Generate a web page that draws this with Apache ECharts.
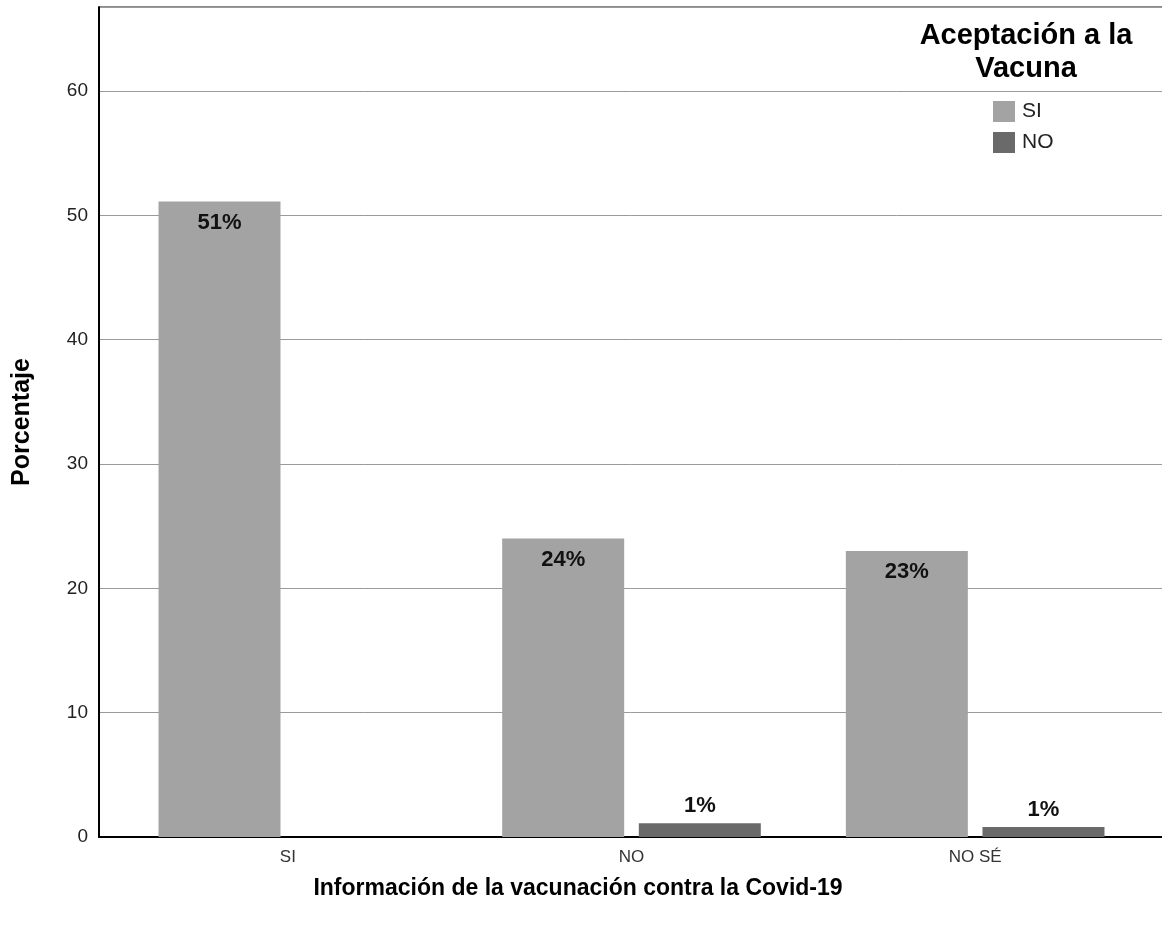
<!DOCTYPE html>
<html><head><meta charset="utf-8">
<script src="https://cdn.jsdelivr.net/npm/echarts@6/dist/echarts.min.js"></script>
<style>html,body{margin:0;padding:0;background:#fff}#c{width:1162px;height:931px}</style>
</head><body><div id="c"></div>
<script>
const categories = ['SI', 'NO', 'NO SÉ'];
const seriesNames = ['SI', 'NO'];
const valuesSI = [51.1, 24.0, 23.0];
const valuesNO = [0, 1.1, 0.8];
const yTicks = [0, 10, 20, 30, 40, 50, 60];

const chart = echarts.init(document.getElementById('c'));
const sans = '"Liberation Sans", Arial, sans-serif';
const gTop = 7, gBottom = 94, yMax = 66.75;
const fmt = p => p.value > 0 ? Math.round(p.value) + '%' : '';
chart.setOption({
  animation: false,
  grid: [
    {left: 99, right: 0, top: gTop, bottom: gBottom, show: false, containLabel: false, outerBoundsMode: 'none'},
    {left: 116, right: 15, top: gTop, bottom: gBottom, show: false, containLabel: false, outerBoundsMode: 'none'}
  ],
  xAxis: [
    {type: 'category', gridIndex: 0, data: categories,
     axisLine: {lineStyle: {color: '#000', width: 2}}, axisTick: {show: false}, axisLabel: {show: false}},
    {type: 'category', gridIndex: 1, data: categories,
     axisLine: {show: false}, axisTick: {show: false},
     axisLabel: {color: '#333', fontFamily: sans, fontSize: 17, margin: 12}}
  ],
  yAxis: [
    {type: 'value', gridIndex: 0, min: 0, max: yMax, interval: 10,
     axisLine: {show: true, lineStyle: {color: '#000', width: 2}}, axisTick: {show: false},
     axisLabel: {color: '#222', fontFamily: sans, fontSize: 19, margin: 11, showMaxLabel: false,
       formatter: v => yTicks.includes(v) ? String(v) : ''},
     splitLine: {show: true, lineStyle: {color: '#9a9a9a', width: 1}},
     name: 'Porcentaje', nameLocation: 'middle', nameGap: 64, nameRotate: 90,
     nameTextStyle: {fontFamily: sans, fontWeight: 'bold', fontSize: 25, color: '#000'}},
    {type: 'value', gridIndex: 1, min: 0, max: yMax, show: false, splitLine: {show: false}}
  ],
  legend: {
    data: seriesNames, orient: 'vertical', left: 993, top: 101, itemWidth: 22, itemHeight: 21,
    itemGap: 10, icon: 'rect', padding: 0,
    textStyle: {fontFamily: sans, fontSize: 21, color: '#222', padding: [0, 0, 0, 2]}
  },
  graphic: [
    {type: 'text', x: 1026, y: 19, silent: true,
     style: {text: 'Aceptación a la\nVacuna', align: 'center', verticalAlign: 'top', fill: '#000',
       font: 'bold 29px ' + sans, lineHeight: 33}},
    {type: 'text', x: 578, y: 877, silent: true,
     style: {text: 'Información de la vacunación contra la Covid-19', align: 'center', verticalAlign: 'top', fill: '#000',
       font: 'bold 23px ' + sans}},
    {type: 'rect', shape: {x: 100, y: 6, width: 1062, height: 2}, style: {fill: '#8a8a8a'}, silent: true}
  ],
  series: [
    {name: 'SI', type: 'bar', xAxisIndex: 1, yAxisIndex: 1, data: valuesSI,
     barWidth: 122, barGap: '12%', itemStyle: {color: '#a3a3a3'},
     label: {show: true, position: 'insideTop', distance: 10, formatter: fmt,
       fontFamily: sans, fontWeight: 'bold', fontSize: 22, color: '#111'}},
    {name: 'NO', type: 'bar', xAxisIndex: 1, yAxisIndex: 1, data: valuesNO,
     barWidth: 122, barGap: '12%', itemStyle: {color: '#6a6a6a'},
     label: {show: true, position: 'top', distance: 6, formatter: fmt,
       fontFamily: sans, fontWeight: 'bold', fontSize: 22, color: '#111'}}
  ]
});
</script></body></html>
